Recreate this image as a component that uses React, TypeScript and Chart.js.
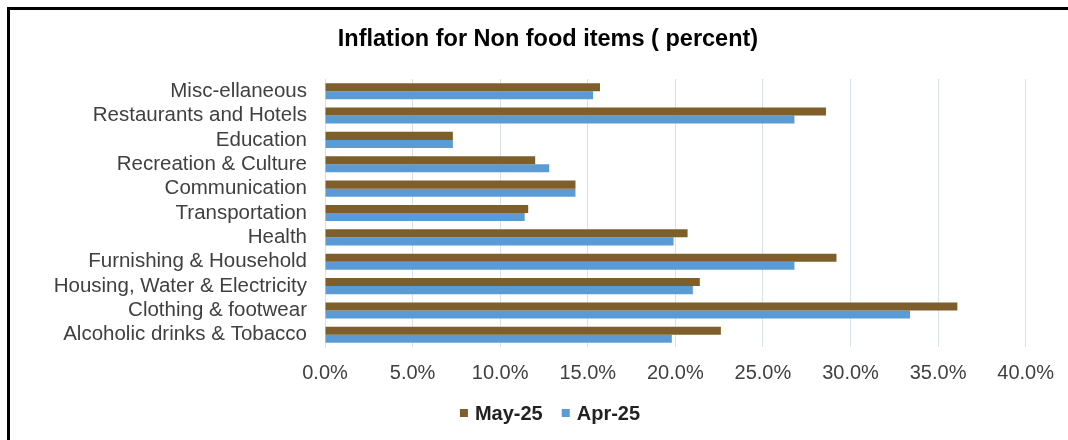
import React, { useEffect, useRef } from "react";
import { Chart, registerables } from "chart.js";

Chart.register(...registerables);

const categories = [
  "Misc-ellaneous",
  "Restaurants and Hotels",
  "Education",
  "Recreation & Culture",
  "Communication",
  "Transportation",
  "Health",
  "Furnishing & Household",
  "Housing, Water & Electricity",
  "Clothing & footwear",
  "Alcoholic drinks & Tobacco",
];

const may25 = [15.7, 28.6, 7.3, 12.0, 14.3, 11.6, 20.7, 29.2, 21.4, 36.1, 22.6];
const apr25 = [15.3, 26.8, 7.3, 12.8, 14.3, 11.4, 19.9, 26.8, 21.0, 33.4, 19.8];

const xMin = 0;
const xMax = 40;
const xStep = 5;

const titleText = "Inflation for Non food items ( percent)";
const seriesNames = ["May-25", "Apr-25"];
const seriesColors = ["#7E5F2B", "#5B9BD5"];

const FONT = "'Liberation Sans', Arial, sans-serif";

const titleLegendPlugin = {
  id: "titleLegend",
  afterDraw(chart: any) {
    const ctx = chart.ctx;
    ctx.save();
    // title
    ctx.font = `bold 23.5px ${FONT}`;
    ctx.fillStyle = "#000000";
    ctx.textAlign = "center";
    ctx.textBaseline = "middle";
    ctx.fillText(titleText, 548, 40);
    // legend
    ctx.font = `bold 20px ${FONT}`;
    const box = 8;
    const gap = 7;
    const itemGap = 19;
    const widths = seriesNames.map((n) => box + gap + ctx.measureText(n).width);
    const total = widths.reduce((a, b) => a + b, 0) + itemGap * (widths.length - 1);
    let x = 550 - total / 2;
    const y = 413;
    ctx.textAlign = "left";
    seriesNames.forEach((n, i) => {
      ctx.fillStyle = seriesColors[i];
      ctx.fillRect(x, y - box / 2, box, box);
      ctx.fillStyle = "#222222";
      ctx.fillText(n, x + box + gap, y + 1);
      x += widths[i] + itemGap;
    });
    ctx.restore();
  },
};

export default function App() {
  const ref = useRef<HTMLCanvasElement | null>(null);

  useEffect(() => {
    if (!ref.current) return;
    const chart = new Chart(ref.current, {
      type: "bar",
      data: {
        labels: categories,
        datasets: [
          {
            label: seriesNames[0],
            data: may25,
            backgroundColor: seriesColors[0],
            borderWidth: 0,
            categoryPercentage: 0.66,
            barPercentage: 1.0,
          },
          {
            label: seriesNames[1],
            data: apr25,
            backgroundColor: seriesColors[1],
            borderWidth: 0,
            categoryPercentage: 0.66,
            barPercentage: 1.0,
          },
        ],
      },
      plugins: [titleLegendPlugin],
      options: {
        indexAxis: "y",
        responsive: false,
        animation: false,
        layout: { padding: { left: 0, right: 40, top: 79, bottom: 41 } },
        plugins: {
          title: { display: false },
          legend: { display: false },
          tooltip: { enabled: false },
        },
        scales: {
          x: {
            min: xMin,
            max: xMax,
            ticks: {
              stepSize: xStep,
              padding: 14,
              color: "#404040",
              font: { family: FONT, size: 20 },
              callback: (v: any) => Number(v).toFixed(1) + "%",
            },
            grid: { color: "#D9E0E8", lineWidth: 1, drawTicks: false },
            border: { display: false },
          },
          y: {
            afterFit: (scale: any) => {
              scale.width = 325;
            },
            ticks: {
              autoSkip: false,
              padding: 18,
              color: "#404040",
              font: { family: FONT, size: 20.5, lineHeight: 1.0 },
            },
            grid: { display: false, drawTicks: false },
            border: { display: true, color: "#D9E0E8", width: 1 },
          },
        },
      },
    });
    return () => chart.destroy();
  }, []);

  return (
    <div>
      <canvas
        ref={ref}
        width={1068}
        height={440}
        style={{ position: "fixed", left: 0, top: 0, width: 1068, height: 440 }}
      />
      <div
        style={{
          position: "fixed",
          left: 7,
          top: 7,
          width: 1200,
          height: 600,
          borderTop: "3px solid #000",
          borderLeft: "3px solid #000",
          pointerEvents: "none",
        }}
      />
    </div>
  );
}
